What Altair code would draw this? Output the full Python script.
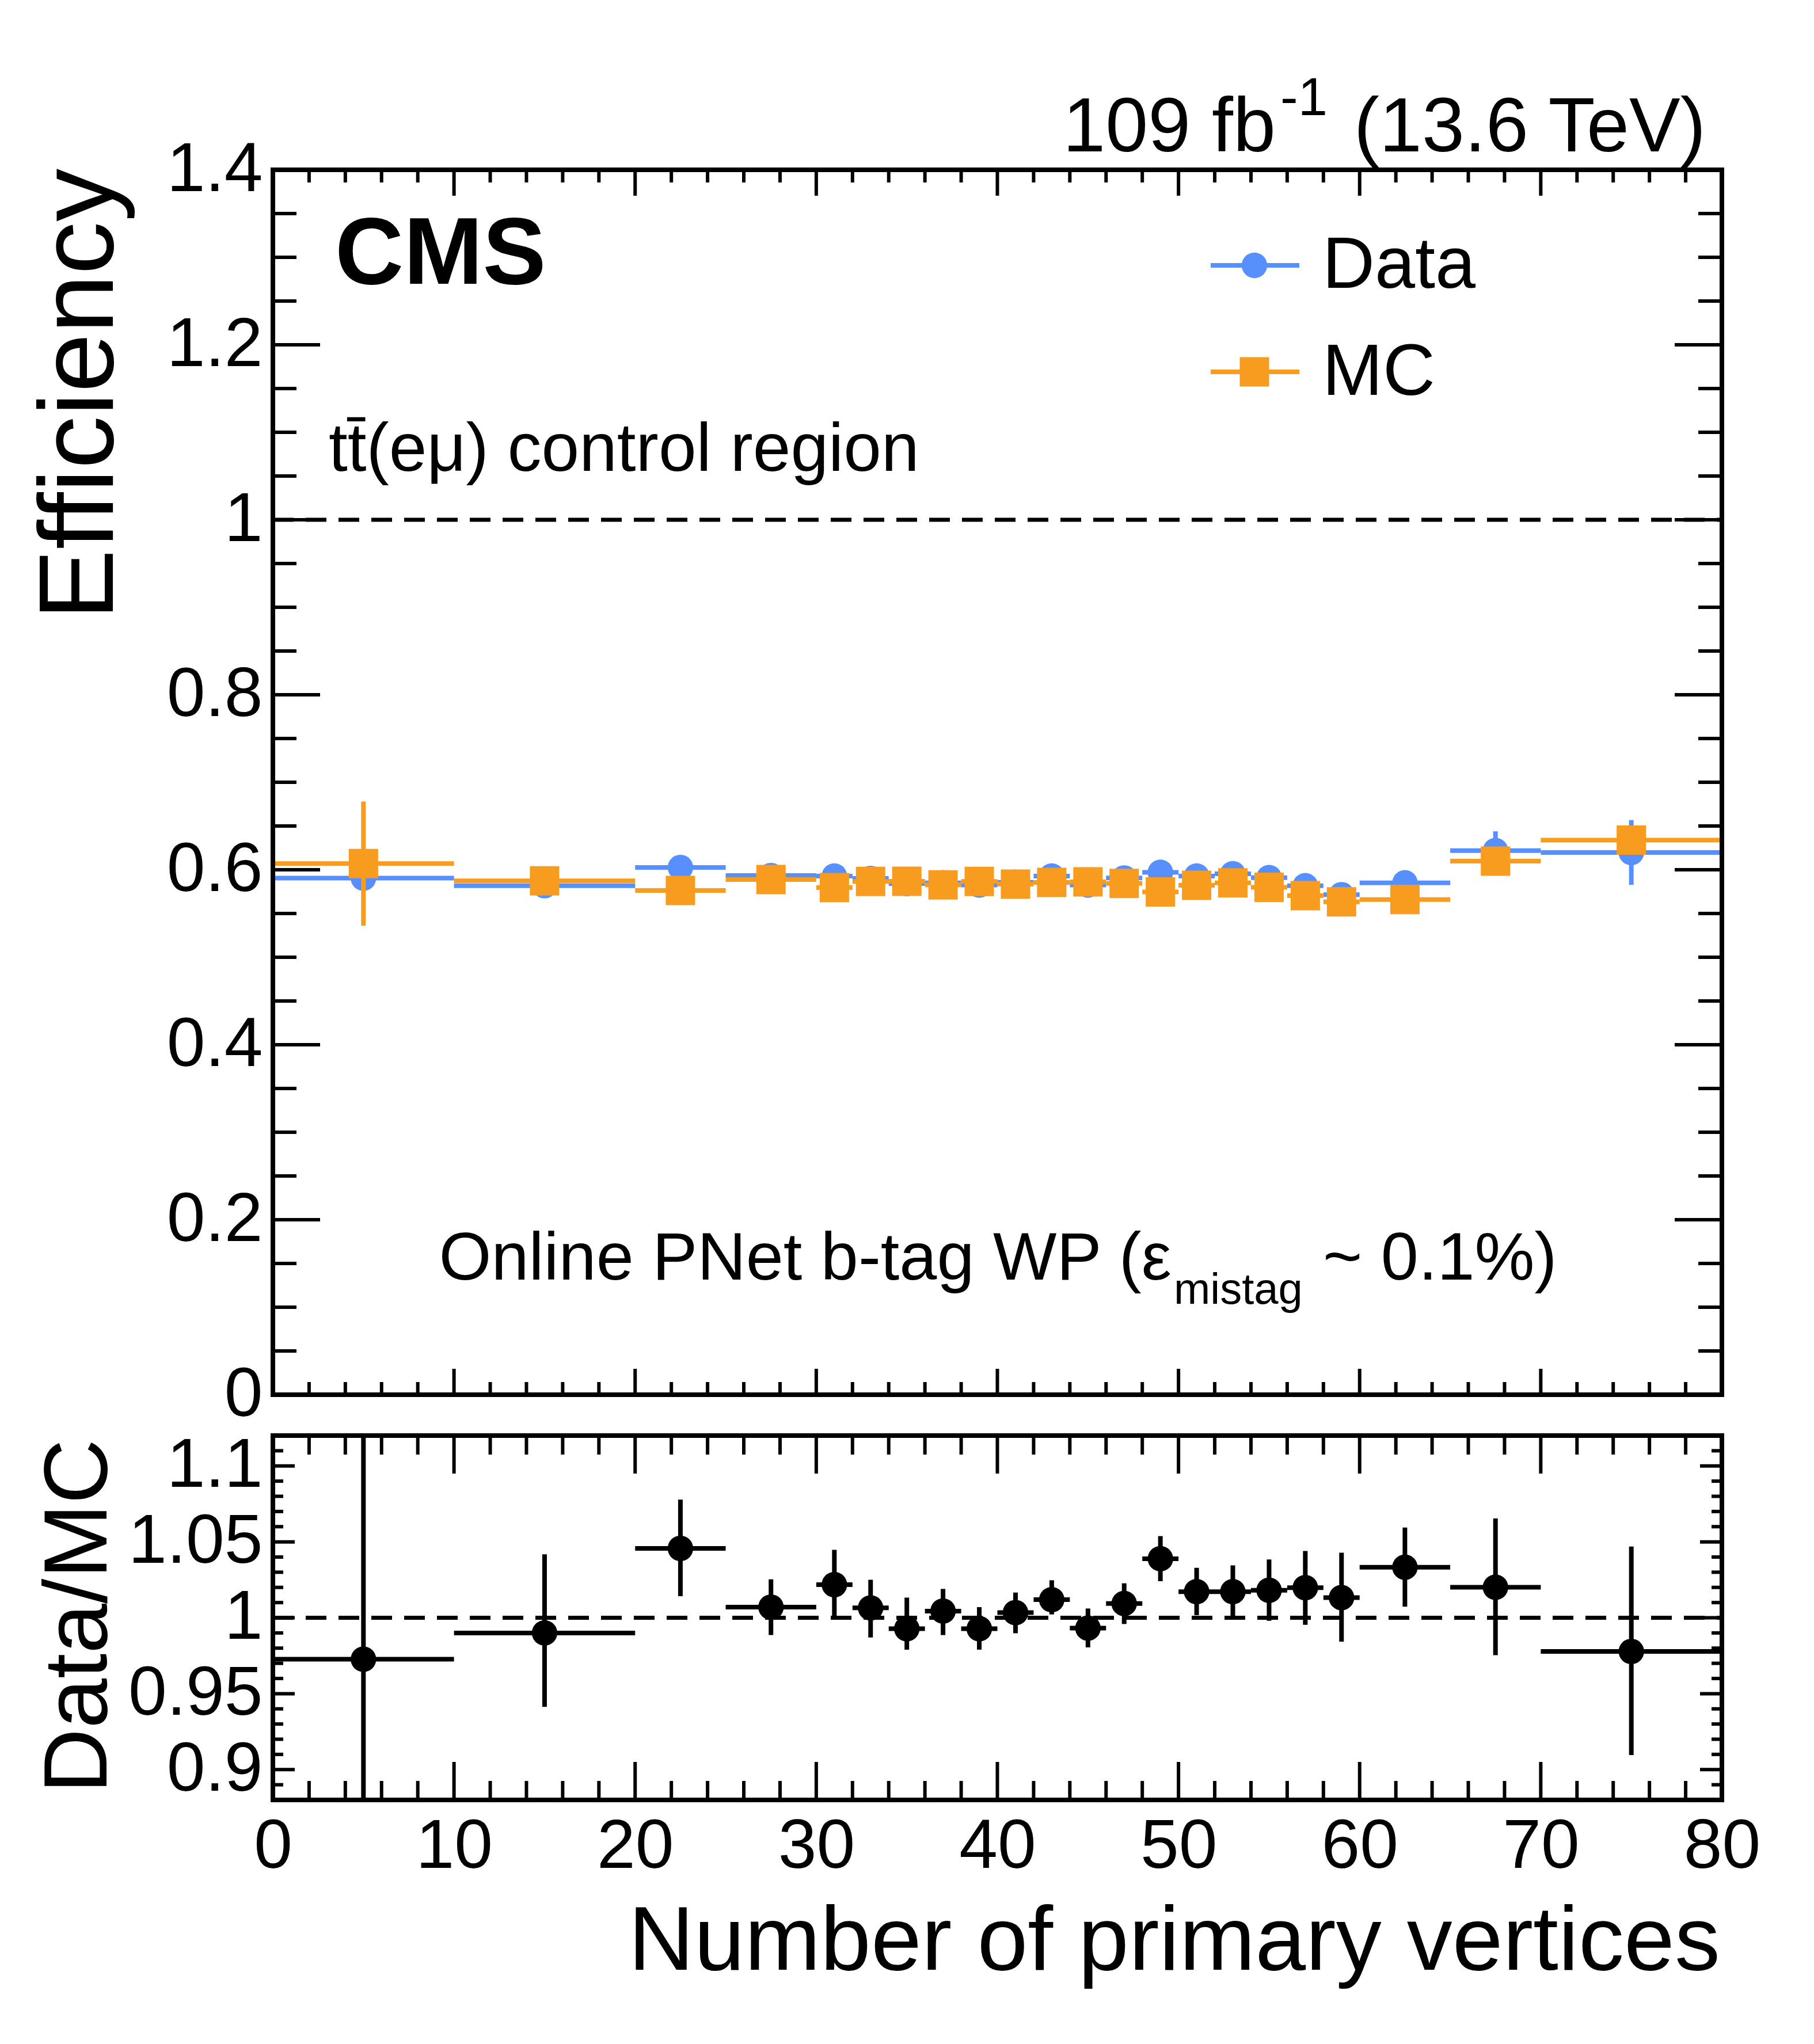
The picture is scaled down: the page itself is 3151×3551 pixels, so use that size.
import altair as alt
import pandas as pd

# ---------------- data ----------------
edges = [0, 10, 20, 25, 30, 32, 34, 36, 38, 40, 42, 44, 46, 48, 50, 52, 54, 56, 58, 60, 65, 70, 80]
data_eff = [0.5904, 0.5818, 0.6026, 0.5934, 0.5928, 0.5901, 0.5842, 0.5851, 0.5825, 0.5857, 0.5928,
            0.5825, 0.5906, 0.5971, 0.5928, 0.5954, 0.5910, 0.5818, 0.5715, 0.5851, 0.6219, 0.6197]
data_err = [0.012, 0.010, 0.010, 0.008, 0.008, 0.006, 0.006, 0.006, 0.006, 0.006, 0.006,
            0.006, 0.006, 0.006, 0.007, 0.008, 0.008, 0.009, 0.010, 0.012, 0.022, 0.037]
mc_eff = [0.6070, 0.5873, 0.5763, 0.5888, 0.5796, 0.5866, 0.5868, 0.5827, 0.5866, 0.5836, 0.5855,
          0.5862, 0.5844, 0.5746, 0.5822, 0.5851, 0.5800, 0.5704, 0.5634, 0.5660, 0.6099, 0.6338]
mc_err = [0.071, 0.012, 0.010, 0.008, 0.008, 0.006, 0.006, 0.006, 0.006, 0.006, 0.006,
          0.006, 0.006, 0.006, 0.007, 0.008, 0.008, 0.009, 0.010, 0.012, 0.012, 0.014]
ratio = [0.9727, 0.9900, 1.0457, 1.0070, 1.0218, 1.0065, 0.9928, 1.0044, 0.9928, 1.0034, 1.0119,
         0.9932, 1.0094, 1.0389, 1.0172, 1.0172, 1.0181, 1.0198, 1.0133, 1.0333, 1.0201, 0.9778]
ratio_lo = [0.800, 0.9413, 1.0142, 0.9886, 0.9995, 0.9870, 0.9790, 0.9886, 0.9790, 0.9898, 1.0022,
            0.9805, 0.9959, 1.0241, 1.0017, 1.0000, 0.9980, 0.9954, 0.9843, 1.0073, 0.9754, 0.9096]
ratio_hi = [1.200, 1.0418, 1.0778, 1.0253, 1.0447, 1.0250, 1.0133, 1.0190, 1.0070, 1.0166, 1.0247,
            1.0061, 1.0227, 1.0538, 1.0329, 1.0345, 1.0384, 1.0440, 1.0428, 1.0594, 1.0654, 1.0469]

x_major = [0, 10, 20, 30, 40, 50, 60, 70, 80]
x_minor = [v for v in range(0, 81, 2) if v % 10]
eff_major = [0, 0.2, 0.4, 0.6, 0.8, 1.0, 1.2, 1.4]
eff_minor = [round(0.05 * i, 2) for i in range(29) if i % 4]
ratio_major = [0.9, 0.95, 1.0, 1.05, 1.1]
ratio_minor = [round(0.88 + 0.01 * i, 2) for i in range(25) if (88 + i) % 5]

BLUE = "#5790fc"
ORANGE = "#f89c20"
FONT = "Liberation Sans"

# ---------------- layout (pixels, plot-area relative) ----------------
W = 2517        # plot width
H = 2832        # total height (main + gap + ratio)
HM = 2128       # main panel bottom
RT = 2199       # ratio panel top

df = pd.DataFrame({
    "x": [(edges[i] + edges[i + 1]) / 2 for i in range(len(edges) - 1)],
    "xlo": edges[:-1],
    "xhi": edges[1:],
    "d": data_eff,
    "dlo": [v - e for v, e in zip(data_eff, data_err)],
    "dhi": [v + e for v, e in zip(data_eff, data_err)],
    "m": mc_eff,
    "mlo": [v - e for v, e in zip(mc_eff, mc_err)],
    "mhi": [v + e for v, e in zip(mc_eff, mc_err)],
    "r": ratio,
    "rlo": ratio_lo,
    "rhi": ratio_hi,
})

xs = alt.Scale(domain=[0, 80], nice=False, zero=False)


def X(f, axis=None):
    return alt.X(f, type="quantitative", scale=xs, axis=axis)


def YM(f, axis=None):
    return alt.Y(f, type="quantitative",
                 scale=alt.Scale(domain=[0, 1.4], range=[HM, 0], nice=False, zero=False),
                 axis=axis)


def YR(f, axis=None):
    return alt.Y(f, type="quantitative",
                 scale=alt.Scale(domain=[0.88, 1.12], range=[H, RT], nice=False, zero=False, clamp=True),
                 axis=axis)


base = alt.Chart(df)
layers = []

# reference dashed lines at 1
one = pd.DataFrame({"a": [0], "b": [80], "v": [1.0]})
layers.append(alt.Chart(one).mark_rule(color="black", strokeWidth=7, strokeDash=[36, 21]).encode(
    x=X("a"), x2="b", y=YM("v")))
layers.append(alt.Chart(one).mark_rule(color="black", strokeWidth=7, strokeDash=[36, 21]).encode(
    x=X("a"), x2="b", y=YR("v")))

# Data (blue)
layers.append(base.mark_rule(color=BLUE, strokeWidth=8).encode(x=X("xlo"), x2="xhi", y=YM("d")))
layers.append(base.mark_rule(color=BLUE, strokeWidth=8).encode(x=X("x"), y=YM("dlo"), y2="dhi"))
layers.append(base.mark_point(shape="circle", filled=True, size=1963, color=BLUE, opacity=1).encode(
    x=X("x"), y=YM("d")))
# MC (orange)
layers.append(base.mark_rule(color=ORANGE, strokeWidth=8).encode(x=X("xlo"), x2="xhi", y=YM("m")))
layers.append(base.mark_rule(color=ORANGE, strokeWidth=8).encode(x=X("x"), y=YM("mlo"), y2="mhi"))
layers.append(base.mark_point(shape="square", filled=True, size=2601, color=ORANGE, opacity=1).encode(
    x=X("x"), y=YM("m")))
# Ratio (black)
layers.append(base.mark_rule(color="black", strokeWidth=8).encode(x=X("xlo"), x2="xhi", y=YR("r")))
layers.append(base.mark_rule(color="black", strokeWidth=8).encode(x=X("x"), y=YR("rlo"), y2="rhi"))
layers.append(base.mark_point(shape="circle", filled=True, size=1963, color="black", opacity=1).encode(
    x=X("x"), y=YR("r")))

# ---------------- ticks (inside, all four sides) ----------------
def xticks(vals, y0, y1, axis=None):
    d = pd.DataFrame({"v": vals})
    return alt.Chart(d).mark_rule(color="black", strokeWidth=6).encode(
        x=X("v", axis), y=alt.value(y0), y2=alt.value(y1))


def yticks(vals, yfun, x0, x1, axis=None):
    d = pd.DataFrame({"v": vals})
    return alt.Chart(d).mark_rule(color="black", strokeWidth=6).encode(
        y=yfun("v", axis), x=alt.value(x0), x2=alt.value(x1))


# main panel x ticks
layers.append(xticks(x_major, 0, 45))
layers.append(xticks(x_minor, 0, 22))
layers.append(xticks(x_major, HM, HM - 45))
layers.append(xticks(x_minor, HM, HM - 22))
# ratio panel x ticks
layers.append(xticks(x_major, RT, RT + 66))
layers.append(xticks(x_minor, RT, RT + 33))
layers.append(xticks(x_minor, H, H - 33))
layers.append(xticks(x_major, H, H - 66, axis=alt.Axis(
    values=x_major, format="d", ticks=False, domain=False, grid=False, orient="bottom",
    labelFont=FONT, labelFontSize=120, labelColor="black", labelPadding=22,
    labelFlush=False, labelOverlap=False, labelLimit=2000, title=None)))

# main panel y ticks
layers.append(yticks(eff_major, YM, 0, 82, axis=alt.Axis(
    values=eff_major, format="~g", ticks=False, domain=False, grid=False, orient="left",
    labelFont=FONT, labelFontSize=120, labelColor="black", labelPadding=18,
    labelOverlap=False, labelFlush=False, labelLimit=2000, title=None)))
layers.append(yticks(eff_minor, YM, 0, 41))
layers.append(yticks(eff_major, YM, W, W - 82))
layers.append(yticks(eff_minor, YM, W, W - 41))
# ratio panel y ticks
layers.append(yticks(ratio_major, YR, 0, 38, axis=alt.Axis(
    values=ratio_major, format="~g", ticks=False, domain=False, grid=False, orient="left",
    labelFont=FONT, labelFontSize=120, labelColor="black", labelPadding=18,
    labelOverlap=False, labelFlush=False, labelLimit=2000, title=None)))
layers.append(yticks(ratio_minor, YR, 0, 18))
layers.append(yticks(ratio_major, YR, W, W - 38))
layers.append(yticks(ratio_minor, YR, W, W - 18))

# ---------------- frames ----------------
fm = pd.DataFrame({"a": [0], "b": [80], "lo": [0.0], "hi": [1.4]})
layers.append(alt.Chart(fm).mark_rect(fill=None, fillOpacity=0, stroke="black", strokeWidth=8).encode(
    x=X("a"), x2="b", y=YM("lo"), y2="hi"))
fr = pd.DataFrame({"a": [0], "b": [80], "lo": [0.88], "hi": [1.12]})
layers.append(alt.Chart(fr).mark_rect(fill=None, fillOpacity=0, stroke="black", strokeWidth=8).encode(
    x=X("a"), x2="b", y=YR("lo"), y2="hi"))

# ---------------- legend ----------------
for col, shape, size, yy, label, ty in [
    (BLUE, "circle", 1963, 166, "Data", 205),
    (ORANGE, "square", 2601, 351, "MC", 391),
]:
    ld = pd.DataFrame({"t": [label]})
    layers.append(alt.Chart(ld).mark_rule(color=col, strokeWidth=8).encode(
        x=alt.value(1629), x2=alt.value(1783), y=alt.value(yy)))
    layers.append(alt.Chart(ld).mark_point(shape=shape, filled=True, size=size, color=col, opacity=1).encode(
        x=alt.value(1705), y=alt.value(yy)))
    layers.append(alt.Chart(ld).mark_text(font=FONT, fontSize=126, align="left", baseline="alphabetic",
                                          color="black").encode(
        text="t:N", x=alt.value(1823), y=alt.value(ty)))

# ---------------- annotations ----------------
texts = [
    ("CMS", 108, 198, 165, "left", "bold", 0),
    ("tt\u0304(e\u03bc) control region", 97, 523, 118, "left", "normal", 0),
    ("109 fb", 1742, -32, 133, "right", "normal", 0),
    ("-1", 1750, -95, 92, "left", "normal", 0),
    ("(13.6 TeV)", 2489, -32, 133, "right", "normal", 0),
    ("Online PNet b-tag WP (\u03b5", 1561, 1928, 117, "right", "normal", 0),
    ("mistag", 1565, 1970, 76, "left", "normal", 0),
    ("~ 0.1%)", 1824, 1928, 117, "left", "normal", 0),
    ("Number of primary vertices", 2514, 3127, 158, "right", "normal", 0),
    ("Efficiency", -278, -2, 184, "right", "normal", 270),
    ("Data/MC", -289, 2205, 156, "right", "normal", 270),
]
for t, tx, ty, fs, al, fw, ang in texts:
    td = pd.DataFrame({"t": [t]})
    props = dict(font=FONT, fontSize=fs, align=al, baseline="alphabetic", fontWeight=fw, color="black")
    if ang:
        props["angle"] = ang
    layers.append(alt.Chart(td).mark_text(**props).encode(
        text="t:N", x=alt.value(tx), y=alt.value(ty)))

chart = alt.layer(*layers).resolve_scale(y="independent").resolve_axis(
    x="independent", y="independent").properties(
    width=W, height=H,
    autosize=alt.AutoSizeParams(type="none"),
    padding={"left": 466, "top": 287, "right": 150, "bottom": 410},
    background="white",
).configure_view(stroke=None)

chart.save("out.html", embed_options={"renderer": "svg", "actions": False})
